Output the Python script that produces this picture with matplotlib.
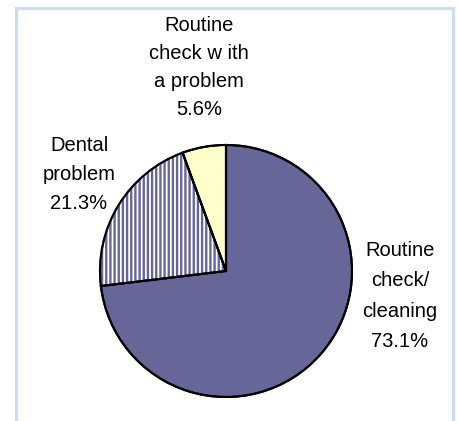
import matplotlib
matplotlib.use("Agg")
import matplotlib.pyplot as plt
from matplotlib.patches import Rectangle

plt.rcParams["font.family"] = ["Liberation Sans", "DejaVu Sans"]
plt.rcParams["hatch.linewidth"] = 1.7

# Reason for last dental visit
categories = ["Routine\ncheck/\ncleaning", "Dental\nproblem", "Routine\ncheck w ith\na problem"]
shares = [73.1, 21.3, 5.6]

W, H = 458, 421
fig = plt.figure(figsize=(W / 100, H / 100), dpi=100)
fig.patch.set_facecolor("white")

# light blue chart-area frame (open at the bottom edge of the image)
fig.patches.append(Rectangle((16 / W, -0.05), (453 - 16) / W, (H - 8) / H + 0.05,
                             transform=fig.transFigure, fill=False,
                             edgecolor="#CCDDF0", linewidth=2.3))

ax = fig.add_axes([0, 0, 1, 1])

cx, cy, r = 226, H - 271, 126
wedges, _ = ax.pie(shares, startangle=90, counterclock=False,
                   center=(cx, cy), radius=r, frame=True,
                   colors=["#666699", "white", "#FFFFCC"],
                   wedgeprops=dict(edgecolor="black", linewidth=1.5))
wedges[1].set_hatch("||||")
wedges[1].set_edgecolor("#666699")
# dark outline drawn over all wedges
ax.pie(shares, startangle=90, counterclock=False,
       center=(cx, cy), radius=r, frame=True,
       colors=["none"] * 3, wedgeprops=dict(edgecolor="black", linewidth=1.5))
ax.set_xlim(0, W)
ax.set_ylim(0, H)
ax.set_aspect("equal")
ax.axis("off")

# label anchors: (center x, first baseline y, line step) in pixels from the top
anchors = [(400, 256, 30.3), (79, 151, 29.0), (199, 31, 28.0)]
for name, val, (x, y0, step) in zip(categories, shares, anchors):
    lines = name.split("\n") + [f"{val}%"]
    for i, line in enumerate(lines):
        ax.text(x, H - (y0 + i * step), line, ha="center", va="baseline",
                fontsize=14.5, color="black")

fig.savefig("out.png", dpi=100, facecolor="white")
